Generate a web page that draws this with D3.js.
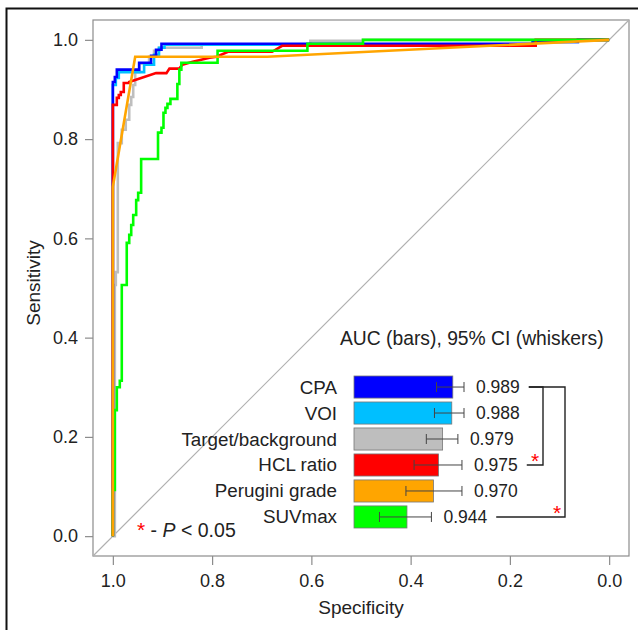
<!DOCTYPE html>
<html lang="en">
<head>
<meta charset="utf-8">
<title>ROC curves</title>
<script src="https://cdnjs.cloudflare.com/ajax/libs/d3/7.8.5/d3.min.js"></script>
<style>
body { margin: 0; background: #fff; }
text { font-family: "Liberation Sans", Arial, sans-serif; fill: #222; }
</style>
</head>
<body>
<script>
var w = 638, h = 630;

// inset bar chart data
var markers = ["CPA", "VOI", "Target/background", "HCL ratio", "Perugini grade", "SUVmax"];
var aucValues = [0.989, 0.988, 0.979, 0.975, 0.970, 0.944];
var ciLow = [0.973, 0.971, 0.963, 0.951, 0.943, 0.917];
var ciHigh = [1.000, 1.000, 0.994, 0.998, 0.998, 0.968];
var colors = ["#0000ff", "#00bfff", "#bebebe", "#ff0000", "#ffa500", "#00ff00"];
var axisTicks = [0, 0.2, 0.4, 0.6, 0.8, 1.0];

// ROC curves, [specificity, sensitivity]
var rocCPA = [[1,0],[1,0.915],[0.996,0.915],[0.996,0.925],[0.992,0.925],[0.992,0.940],[0.947,0.940],
  [0.947,0.954],[0.923,0.954],[0.923,0.968],[0.913,0.968],[0.913,0.980],[0.902,0.980],[0.902,0.992],
  [0.154,0.992],[0.154,0.996],[0.063,0.996],[0.063,1],[0,1]];
var rocVOI = [[1,0],[1,0.909],[0.994,0.909],[0.994,0.923],[0.988,0.923],[0.988,0.935],[0.937,0.935],
  [0.937,0.950],[0.917,0.950],[0.917,0.970],[0.907,0.970],[0.907,0.984],[0.896,0.984],[0.896,0.990],
  [0.154,0.990],[0.154,0.996],[0.063,0.996],[0.063,1],[0,1]];
var rocTarget = [[1,0],[0.996,0],[0.996,0.506],[0.994,0.506],[0.994,0.532],[0.990,0.532],[0.990,0.792],
  [0.982,0.792],[0.982,0.819],[0.974,0.819],[0.974,0.839],[0.967,0.839],[0.967,0.869],[0.963,0.869],
  [0.963,0.885],[0.959,0.885],[0.959,0.909],[0.955,0.909],[0.955,0.935],[0.947,0.935],[0.947,0.952],
  [0.927,0.952],[0.927,0.966],[0.917,0.966],[0.917,0.978],[0.907,0.978],[0.907,0.984],[0.821,0.984],
  [0.821,0.990],[0.602,0.990],[0.602,0.998],[0.496,0.998],[0.496,1],[0,1]];
var rocHCL = [[1,0],[1,0.869],[0.992,0.869],[0.992,0.883],[0.988,0.883],[0.988,0.889],[0.984,0.889],
  [0.984,0.895],[0.978,0.895],[0.978,0.913],[0.967,0.913],[0.967,0.915],[0.913,0.933],[0.892,0.933],
  [0.886,0.942],[0.866,0.942],[0.860,0.950],[0.839,0.956],[0.805,0.964],[0.791,0.966],[0.768,0.976],
  [0.679,0.976],[0.659,0.988],[0.148,0.988],[0.148,1],[0,1]];
var rocPerugini = [[1,0],[1,0.704],[0.955,0.966],[0.689,0.966],[0,1]];
var rocSUV = [[1,0],[1,0.093],[0.996,0.093],[0.996,0.254],[0.992,0.254],[0.992,0.300],[0.986,0.300],
  [0.986,0.313],[0.982,0.313],[0.982,0.506],[0.972,0.506],[0.972,0.591],[0.967,0.591],[0.967,0.607],
  [0.963,0.607],[0.963,0.627],[0.959,0.627],[0.959,0.647],[0.953,0.647],[0.953,0.677],[0.949,0.677],
  [0.949,0.692],[0.943,0.692],[0.943,0.760],[0.909,0.760],[0.909,0.813],[0.902,0.813],[0.902,0.823],
  [0.898,0.823],[0.898,0.853],[0.894,0.853],[0.894,0.863],[0.890,0.863],[0.890,0.871],[0.884,0.871],
  [0.884,0.881],[0.870,0.881],[0.870,0.911],[0.866,0.911],[0.866,0.940],[0.862,0.940],[0.862,0.954],
  [0.789,0.954],[0.789,0.978],[0.608,0.978],[0.608,0.992],[0.496,0.992],[0.496,1],[0,1]];

// significant comparisons (index pairs into markers)
var comparisons = [[0, 3], [0, 5]];

var svg = d3.select("body").append("svg")
  .attr("width", w)
  .attr("height", h);

// outer frame
svg.append("rect")
  .attr("x", 6.5).attr("y", 8.5)
  .attr("width", 640).attr("height", 640)
  .attr("fill", "none")
  .attr("stroke", "#111")
  .attr("stroke-width", 2);

var x = d3.scaleLinear().domain([1.04, -0.04]).range([93, 629]);
var y = d3.scaleLinear().domain([-0.04, 1.04]).range([556, 20]);

// plot box
svg.append("rect")
  .attr("x", x(1.04)).attr("y", y(1.04))
  .attr("width", x(-0.04) - x(1.04))
  .attr("height", y(-0.04) - y(1.04))
  .attr("fill", "none")
  .attr("stroke", "#8c8c8c")
  .attr("stroke-width", 1.2);

var yAxis = svg.append("g")
  .attr("transform", "translate(" + x(1.04) + ",0)")
  .call(d3.axisLeft(y).tickValues(axisTicks).tickFormat(d3.format(".1f")).tickSize(8).tickPadding(7));
var xAxis = svg.append("g")
  .attr("transform", "translate(0," + y(-0.04) + ")")
  .call(d3.axisBottom(x).tickValues(axisTicks).tickFormat(d3.format(".1f")).tickSize(9).tickPadding(9));
[xAxis, yAxis].forEach(function (g) {
  g.select(".domain").remove();
  g.selectAll("line").attr("stroke", "#8c8c8c").attr("stroke-width", 1.2);
  g.selectAll("text").attr("font-size", "18px").attr("fill", "#222")
    .attr("font-family", "'Liberation Sans', Arial, sans-serif");
});

svg.append("text")
  .attr("transform", "translate(33,283) rotate(-90)")
  .attr("text-anchor", "middle")
  .attr("dominant-baseline", "central")
  .attr("font-size", "19px")
  .text("Sensitivity");
svg.append("text")
  .attr("x", x(0.5)).attr("y", 614)
  .attr("text-anchor", "middle")
  .attr("font-size", "19px")
  .text("Specificity");

// chance line
svg.append("line")
  .attr("x1", x(1.04)).attr("y1", y(-0.04))
  .attr("x2", x(-0.04)).attr("y2", y(1.04))
  .attr("stroke", "#b0b0b0")
  .attr("stroke-width", 1.2);

var line = d3.line()
  .x(function (d) { return x(d[0]); })
  .y(function (d) { return y(d[1]); });

var curves = [
  { data: rocTarget, color: colors[2] },
  { data: rocVOI, color: colors[1] },
  { data: rocCPA, color: colors[0] },
  { data: rocHCL, color: colors[3] },
  { data: rocSUV, color: colors[5] },
  { data: rocPerugini, color: colors[4] }
];
svg.selectAll("path.roc")
  .data(curves)
  .enter()
  .append("path")
  .attr("class", "roc")
  .attr("d", function (d) { return line(d.data); })
  .attr("fill", "none")
  .attr("stroke", function (d) { return d.color; })
  .attr("stroke-width", 2.6)
  .attr("stroke-linejoin", "miter");

// inset: AUC bars and CI whiskers
var barX = d3.scaleLinear().domain([0.892, 1.0]).range([354, 464]);
var barY = d3.scaleBand().domain(markers).range([376, 528]).paddingInner(0.15);

svg.append("text")
  .attr("x", 340).attr("y", 338)
  .attr("dominant-baseline", "central")
  .attr("font-size", "19.3px")
  .text("AUC (bars), 95% CI (whiskers)");

var rows = markers.map(function (m, i) {
  return { name: m, auc: aucValues[i], lo: ciLow[i], hi: ciHigh[i], color: colors[i] };
});

svg.selectAll("rect.bar")
  .data(rows)
  .enter()
  .append("rect")
  .attr("class", "bar")
  .attr("x", barX(0.892))
  .attr("y", function (d) { return barY(d.name); })
  .attr("width", function (d) { return barX(d.auc) - barX(0.892); })
  .attr("height", barY.bandwidth())
  .attr("fill", function (d) { return d.color; })
  .attr("stroke", "#777")
  .attr("stroke-width", 0.8);

var cy = function (d) { return barY(d.name) + barY.bandwidth() / 2; };
var whisk = svg.selectAll("g.whisker")
  .data(rows)
  .enter()
  .append("g")
  .attr("class", "whisker")
  .attr("stroke", "#444")
  .attr("stroke-width", 1);
whisk.append("line")
  .attr("x1", function (d) { return barX(d.lo); })
  .attr("x2", function (d) { return barX(d.hi); })
  .attr("y1", cy).attr("y2", cy);
whisk.append("line")
  .attr("x1", function (d) { return barX(d.lo); })
  .attr("x2", function (d) { return barX(d.lo); })
  .attr("y1", function (d) { return cy(d) - 5; })
  .attr("y2", function (d) { return cy(d) + 5; });
whisk.append("line")
  .attr("x1", function (d) { return barX(d.hi); })
  .attr("x2", function (d) { return barX(d.hi); })
  .attr("y1", function (d) { return cy(d) - 5; })
  .attr("y2", function (d) { return cy(d) + 5; });

svg.selectAll("text.cat")
  .data(rows)
  .enter()
  .append("text")
  .attr("class", "cat")
  .attr("x", 337)
  .attr("y", cy)
  .attr("text-anchor", "end")
  .attr("dominant-baseline", "central")
  .attr("font-size", "18.8px")
  .text(function (d) { return d.name; });

var vals = svg.selectAll("text.val")
  .data(rows)
  .enter()
  .append("text")
  .attr("class", "val")
  .attr("x", function (d) { return barX(d.hi) + 12; })
  .attr("y", cy)
  .attr("dominant-baseline", "central")
  .attr("font-size", "17.5px")
  .text(function (d) { return d3.format(".3f")(d.auc); });

// brackets for significant differences
var textEnd = vals.nodes().map(function (n) { return n.getComputedTextLength() + (+n.getAttribute("x")); });
var bracketX = [543, 565];
comparisons.forEach(function (c, k) {
  var a = rows[c[0]], b = rows[c[1]];
  var bx = bracketX[k];
  var pts = [[textEnd[c[0]] + 9, cy(a)], [bx, cy(a)], [bx, cy(b)], [textEnd[c[1]] + 9, cy(b)]];
  svg.append("path")
    .attr("d", d3.line()(pts))
    .attr("fill", "none")
    .attr("stroke", "#222")
    .attr("stroke-width", 1.4);
  svg.append("text")
    .attr("x", bx - 8).attr("y", cy(b) + 3)
    .attr("text-anchor", "middle")
    .attr("font-size", "21px")
    .style("fill", "#ff0000")
    .text("*");
});

// significance legend
var leg = svg.append("text")
  .attr("x", 137).attr("y", 537)
  .attr("font-size", "19.5px");
leg.append("tspan").style("fill", "#ff0000").attr("font-size", "21px").text("*");
leg.append("tspan").text(" - ");
leg.append("tspan").attr("font-style", "italic").text("P");
leg.append("tspan").text(" < 0.05");
</script>
</body>
</html>
